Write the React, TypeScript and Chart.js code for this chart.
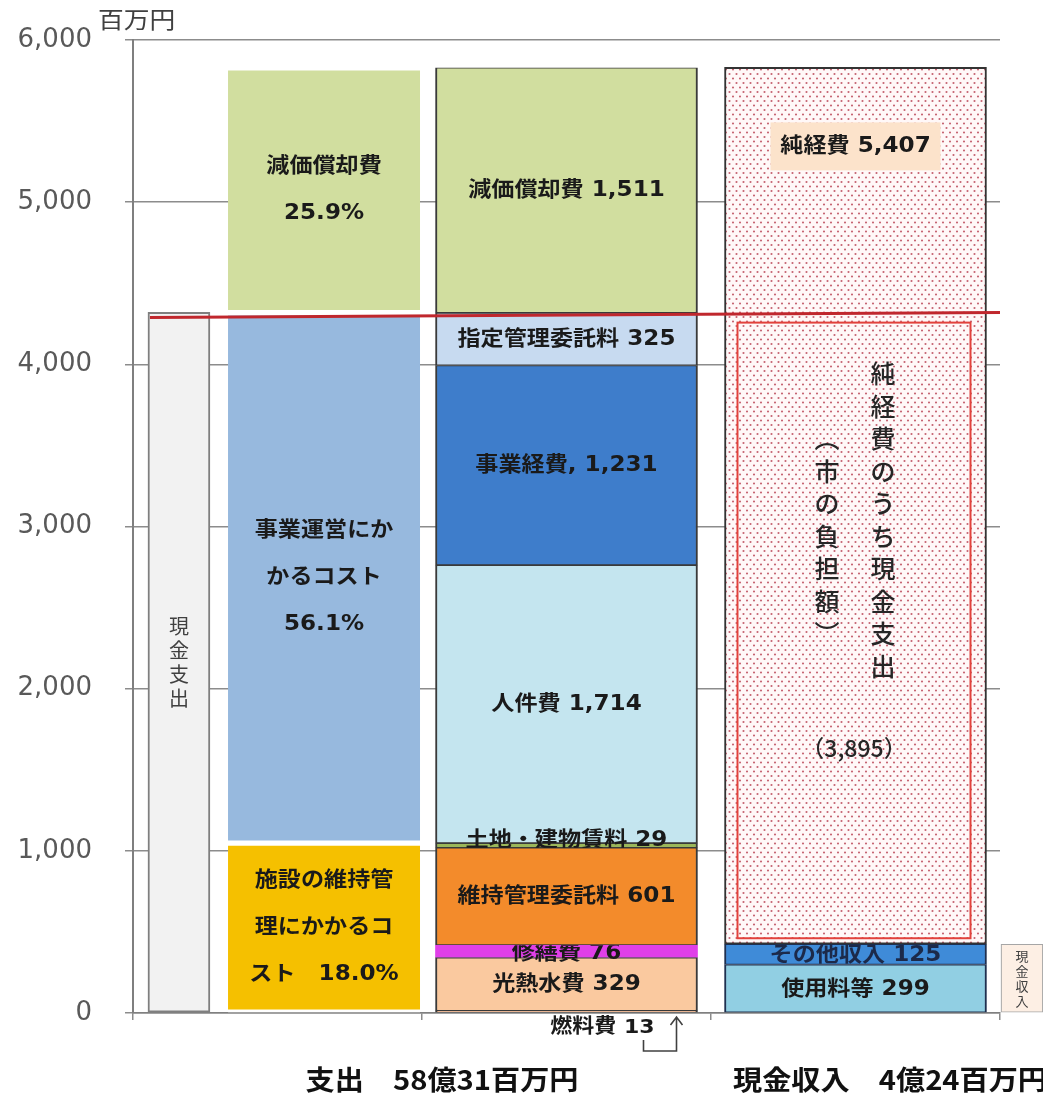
import React, { useEffect, useRef } from 'react';
import { Chart, registerables } from 'chart.js';

Chart.register(...registerables);

// ---------- data ----------
const yTickValues = [0, 1000, 2000, 3000, 4000, 5000, 6000];
const unitLabel = '百万円';

const cashOutLabel = '現金支出';
const cashOutValue = 4320;

const groupLines = [
  ['施設の維持管', '理にかかるコ', 'スト　18.0%'],
  ['事業運営にか', 'かるコスト', '56.1%'],
  ['減価償却費', '25.9%'],
];
const groupValues = [1048, 3270, 1511];

const detailNames = ['燃料費', '光熱水費', '修繕費', '維持管理委託料', '土地・建物賃料', '人件費', '事業経費,', '指定管理委託料', '減価償却費'];
const detailValues = [13, 329, 76, 601, 29, 1714, 1231, 325, 1511];

const revenueNames = ['使用料等', 'その他収入', '純経費'];
const revenueValues = [299, 125, 5407];

const netCashTitle = '純経費のうち現金支出';
const netCashSub = '（市の負担額）';
const netCashValue = 3895;

const cashInLabel = '現金収入';
const cashInValue = 424;

const bottomLabels = ['支出　58億31百万円', '現金収入　4億24百万円'];

// ---------- styles ----------
const groupColors = ['#F5C000', '#97B9DE', '#D1DE9F'];
const detailColors = ['#F4B183', '#FAC99F', '#E03FE8', '#F38B2B', '#9BB75A', '#C4E5EF', '#3E7DCB', '#C7DAF0', '#D1DE9F'];
const revenueColors = ['#91CFE3', '#3F8BD8'];

const X_NARROW = 0.159;
const X_GROUP = 0.661;
const X_DETAIL = 1.5;
const X_REV = 2.5;
const X_CASHIN = 3.076;

const boldFont = (px: number) => `bold ${px}px "DejaVu Sans", "Noto Sans CJK JP", sans-serif`;
const cjkFont = (px: number, w = 'normal') => `${w} ${px}px "Noto Sans CJK JP", sans-serif`;

function cumulative(values: number[]): [number, number][] {
  let acc = 0;
  return values.map((v) => {
    const s = acc;
    acc += v;
    return [s, acc];
  });
}

function drawText(ctx: CanvasRenderingContext2D, text: string, x: number, y: number, font: string, color: string, sx = 1, align: CanvasTextAlign = 'center') {
  ctx.save();
  ctx.translate(x, y);
  ctx.scale(sx, 1);
  ctx.font = font;
  ctx.fillStyle = color;
  ctx.textAlign = align;
  ctx.textBaseline = 'middle';
  ctx.fillText(text, 0, 0);
  ctx.restore();
}

function drawVertical(ctx: CanvasRenderingContext2D, text: string, x: number, y0: number, step: number, font: string, color: string) {
  const chars = Array.from(text).map((c) => (c === '（' ? '︵' : c === '）' ? '︶' : c));
  chars.forEach((c, i) => drawText(ctx, c, x, y0 + i * step, font, color));
}

export default function App() {
  const ref = useRef<HTMLCanvasElement>(null);

  useEffect(() => {
    const canvas = ref.current!;
    const tile = document.createElement('canvas');
    tile.width = 7;
    tile.height = 9;
    const t = tile.getContext('2d')!;
    t.fillStyle = '#FFF8F8';
    t.fillRect(0, 0, 7, 9);
    t.fillStyle = 'rgba(190,80,95,0.9)';
    t.beginPath(); t.arc(1.5, 2, 1.05, 0, Math.PI * 2); t.fill();
    t.beginPath(); t.arc(5, 6.5, 1.05, 0, Math.PI * 2); t.fill();
    const dots = canvas.getContext('2d')!.createPattern(tile, 'repeat');

    const base = { type: 'bar', grouped: false, borderSkipped: false };
    const datasets: any[] = [];

    // cash expense bracket
    const iCashOut = datasets.length;
    datasets.push({ ...base, label: cashOutLabel, data: [{ x: X_NARROW, y: [0, cashOutValue] }], barThickness: 62, backgroundColor: '#F2F2F2', borderColor: '#7F7F7F', borderWidth: 2 });

    // grouped expense
    const groupRanges = cumulative(groupValues);
    const iGroup0 = datasets.length;
    groupRanges.forEach((r, i) => {
      datasets.push({ ...base, label: groupLines[i].join(''), data: [{ x: X_GROUP, y: r }], barThickness: 192, backgroundColor: groupColors[i], borderColor: '#FFFFFF', borderWidth: { top: 3, bottom: 3, left: 0, right: 0 } });
    });

    // detailed expense
    const detailRanges = cumulative(detailValues);
    const iDetail0 = datasets.length;
    detailRanges.forEach((r, i) => {
      datasets.push({ ...base, label: detailNames[i], data: [{ x: X_DETAIL, y: r }], barThickness: 262, backgroundColor: detailColors[i], borderColor: '#3A3A3A', borderWidth: i === 2 ? 0 : { top: 1.2, bottom: 1.2, left: 2, right: 2 } });
    });

    // revenues / net cost
    const revRanges = cumulative(revenueValues);
    const iRev0 = datasets.length;
    revRanges.forEach((r, i) => {
      datasets.push({ ...base, label: revenueNames[i], data: [{ x: X_REV, y: r }], barThickness: 262, backgroundColor: i < 2 ? revenueColors[i] : dots, borderColor: i < 2 ? '#1F3050' : '#333333', borderWidth: i < 2 ? { top: 1.2, bottom: 1.2, left: 2, right: 2 } : 2 });
    });

    // cash revenue bracket
    const iCashIn = datasets.length;
    datasets.push({ ...base, label: cashInLabel, data: [{ x: X_CASHIN, y: [0, cashInValue] }], barThickness: 42, backgroundColor: '#FDEFE4', borderColor: '#A6A6A6', borderWidth: 1.2, clip: false });

    const annot = {
      id: 'annot',
      afterDatasetsDraw(chart: any) {
        const ctx: CanvasRenderingContext2D = chart.ctx;
        const area = chart.chartArea;
        const yS = chart.scales.y;
        const el = (i: number) => chart.getDatasetMeta(i).data[0] as any;
        const dark = '#1A1A1A';
        const SX = 1.1;

        // unit
        drawText(ctx, unitLabel, 98, 19, cjkFont(23), '#404040', 1.12, 'left');

        // cash-out bracket label
        const co = el(iCashOut);
        drawVertical(ctx, cashOutLabel, co.x, (co.y + co.base) / 2 - 36, 24, cjkFont(20), '#404040');

        // group labels
        groupLines.forEach((lines, i) => {
          const e = el(iGroup0 + i);
          const mid = (e.y + e.base) / 2;
          lines.forEach((ln, k) => drawText(ctx, ln, e.x, mid + (k - (lines.length - 1) / 2) * 47, boldFont(21), dark, SX));
        });

        // detail labels
        const orange = el(iDetail0 + 3);
        detailNames.forEach((name, i) => {
          if (i === 0) return;
          const e = el(iDetail0 + i);
          const mid = (e.y + e.base) / 2;
          const txt = `${name} ${detailValues[i].toLocaleString('en-US')}`;
          ctx.save();
          if (i === 4) { ctx.beginPath(); ctx.rect(0, 0, 2000, orange.y); ctx.clip(); }
          if (i === 2) { ctx.beginPath(); ctx.rect(0, orange.base, 2000, 2000); ctx.clip(); }
          drawText(ctx, txt, e.x, i === 4 ? mid - 5 : mid + (i === 2 ? 2 : 0), boldFont(21), dark, SX);
          ctx.restore();
        });

        // fuel label with arrow
        const fuel = el(iDetail0);
        const b = area.bottom;
        drawText(ctx, `${detailNames[0]} ${detailValues[0]}`, fuel.x + 88, b + 15, boldFont(20), dark, SX, 'right');
        ctx.save();
        ctx.strokeStyle = '#404040';
        ctx.lineWidth = 1.6;
        ctx.beginPath();
        ctx.moveTo(fuel.x + 77, b + 27);
        ctx.lineTo(fuel.x + 77, b + 38);
        ctx.lineTo(fuel.x + 110, b + 38);
        ctx.lineTo(fuel.x + 110, b + 4);
        ctx.moveTo(fuel.x + 104, b + 12);
        ctx.lineTo(fuel.x + 110, b + 4);
        ctx.lineTo(fuel.x + 116, b + 12);
        ctx.stroke();
        ctx.restore();

        // revenue labels
        const net = el(iRev0 + 2);
        revenueNames.forEach((name, i) => {
          const e = el(iRev0 + i);
          const txt = `${name} ${revenueValues[i].toLocaleString('en-US')}`;
          if (i === 2) {
            const cy = e.y + 79;
            ctx.save();
            ctx.fillStyle = '#FCE3CB';
            ctx.fillRect(e.x - 85, cy - 24, 170, 48);
            ctx.restore();
            drawText(ctx, txt, e.x, cy, boldFont(21), dark, SX);
            return;
          }
          const mid = (e.y + e.base) / 2;
          ctx.save();
          if (i === 1) { ctx.beginPath(); ctx.rect(0, net.base, 2000, 2000); ctx.clip(); }
          drawText(ctx, txt, e.x, mid + 1, boldFont(21), i === 1 ? '#1C2A4A' : dark, SX);
          ctx.restore();
        });

        // red cash line
        const lineY = yS.getPixelForValue(cashOutValue);
        ctx.save();
        ctx.strokeStyle = '#C0272D';
        ctx.lineWidth = 3;
        ctx.beginPath();
        ctx.moveTo(co.x - co.width / 2 + 2, lineY + 5);
        ctx.lineTo(area.right, lineY);
        ctx.stroke();
        ctx.restore();

        // net cash expense box
        const top = yS.getPixelForValue(revenueValues[0] + revenueValues[1] + netCashValue) + 10;
        const bot = yS.getPixelForValue(revenueValues[0] + revenueValues[1]) - 6;
        const left = net.x - net.width / 2 + 13;
        const right = net.x + net.width / 2 - 16;
        ctx.save();
        ctx.strokeStyle = '#E2423C';
        ctx.lineWidth = 2;
        ctx.strokeRect(left, top, right - left, bot - top);
        ctx.restore();
        const cx = (left + right) / 2;
        drawVertical(ctx, netCashTitle, cx + 29, top + 51, 32.5, cjkFont(25, '500'), '#262626');
        drawVertical(ctx, netCashSub, cx - 27, top + 51 + 2 * 32.5, 32.5, cjkFont(25, '500'), '#262626');
        drawText(ctx, `（${netCashValue.toLocaleString('en-US')}）`, cx, bot - 190, cjkFont(23, '500'), '#262626');

        // cash-in bracket label
        const ci = el(iCashIn);
        drawVertical(ctx, cashInLabel, ci.x, (ci.y + ci.base) / 2 - 22, 15, cjkFont(13), '#404040');

        // bottom labels
        drawText(ctx, bottomLabels[0], 442, 1080, cjkFont(27, 'bold'), '#111111', 1.08);
        drawText(ctx, bottomLabels[1], 890, 1080, cjkFont(27, 'bold'), '#111111', 1.08);
      },
    };

    const chart = new Chart(canvas, {
      type: 'bar',
      data: { datasets },
      options: {
        responsive: false,
        animation: false,
        events: [],
        layout: { autoPadding: false, padding: { left: 0, right: 43, top: 40, bottom: 0 } },
        plugins: { legend: { display: false }, tooltip: { enabled: false }, title: { display: false } },
        scales: {
          x: {
            type: 'linear',
            min: 0,
            max: 3,
            offset: false,
            afterFit: (s: any) => { s.height = 82; s.paddingLeft = 0; s.paddingRight = 0; s.paddingTop = 0; s.paddingBottom = 0; },
            afterBuildTicks: (s: any) => { s.ticks = [0, 1, 2, 3].map((v) => ({ value: v })); },
            ticks: { callback: () => '', autoSkip: false },
            grid: { drawOnChartArea: false, drawTicks: true, tickLength: 7, color: '#8C8C8C', lineWidth: 1.5, offset: false },
            border: { display: true, color: '#808080', width: 1.5 },
          },
          y: {
            type: 'linear',
            min: 0,
            max: 6000,
            afterFit: (s: any) => { s.width = 133; s.paddingTop = 0; s.paddingBottom = 0; s.paddingLeft = 0; s.paddingRight = 0; },
            afterBuildTicks: (s: any) => { s.ticks = yTickValues.map((v) => ({ value: v })); },
            ticks: {
              callback: (v: any) => Number(v).toLocaleString('en-US'),
              font: { family: '"DejaVu Sans", sans-serif', size: 26 },
              color: '#595959',
              padding: 33,
            },
            grid: { color: '#8C8C8C', lineWidth: 1.5, tickLength: 8 },
            border: { display: true, color: '#7F7F7F', width: 2 },
          },
        },
      } as any,
      plugins: [annot],
    });
    return () => chart.destroy();
  }, []);

  return (
    <div style={{ position: 'absolute', left: 0, top: 0, width: 1043, height: 1095, background: '#FFFFFF' }}>
      <canvas ref={ref} width={1043} height={1095} style={{ display: 'block' }} />
    </div>
  );
}
